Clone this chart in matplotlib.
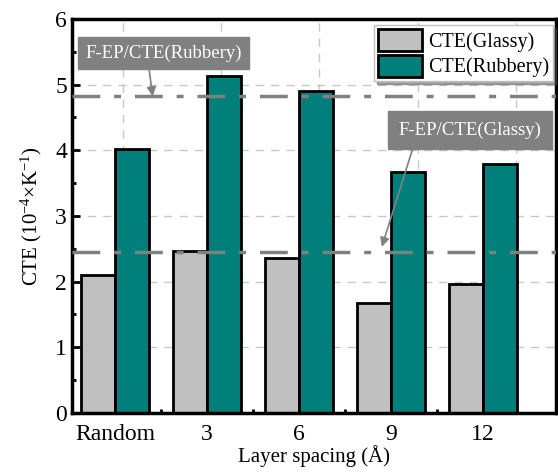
import numpy as np
import matplotlib
matplotlib.use("Agg")
import matplotlib.pyplot as plt

plt.rcParams['font.family'] = ['Liberation Serif', 'DejaVu Serif']
plt.rcParams['mathtext.fontset'] = 'custom'
plt.rcParams['mathtext.rm'] = 'Liberation Serif'
plt.rcParams['mathtext.default'] = 'regular'

# data
categories = ['Random', '3', '6', '9', '12']
cte_glassy = [2.10, 2.47, 2.36, 1.68, 1.96]
cte_rubbery = [4.02, 5.13, 4.90, 3.67, 3.79]
ref_rubbery = 4.82
ref_glassy = 2.45
grid_x = [0.087, 1.152, 2.217, 3.293, 4.36]

x = np.arange(len(categories))
w = 0.37
teal = '#007f7b'
grey = '#c0c0c0'

fig = plt.figure(figsize=(5.58, 4.72), dpi=100)
ax = fig.add_axes([0.129, 0.125, 0.867, 0.835])

# grid
for gx in grid_x:
    ax.axvline(gx, color='#c8c8c8', linestyle=(0, (6, 5)), linewidth=1, zorder=0)
for gy in [1, 2, 3, 4, 5]:
    ax.axhline(gy, color='#c8c8c8', linestyle=(0, (6, 5)), linewidth=1, zorder=0)

ax.bar(x - w/2, cte_glassy, w, color=grey, edgecolor='black', linewidth=2, label='CTE(Glassy)', zorder=2)
ax.bar(x + w/2, cte_rubbery, w, color=teal, edgecolor='black', linewidth=2, label='CTE(Rubbery)', zorder=2)

ax.axhline(ref_rubbery, color='#808080', linestyle=(0, (8, 4, 2, 4)), linewidth=2.5, zorder=3)
ax.axhline(ref_glassy, color='#808080', linestyle=(0, (8, 4, 2, 4)), linewidth=2.5, zorder=3)

ax.annotate('F-EP/CTE(Rubbery)', xy=(0.41, ref_rubbery), xytext=(0.53, 5.48),
            ha='center', va='center', fontsize=13.5, color='white',
            bbox=dict(boxstyle='square,pad=0.4', facecolor='#808080', edgecolor='#808080'),
            arrowprops=dict(arrowstyle='-|>', color='#808080', lw=1.2, shrinkA=0, shrinkB=0,
                            relpos=(0.40, 0)), zorder=5)
ax.annotate('F-EP/CTE(Glassy)', xy=(2.90, 2.53), xytext=(3.86, 4.31),
            ha='center', va='center', fontsize=13.5, color='white',
            bbox=dict(boxstyle='square,pad=0.55', facecolor='#808080', edgecolor='#808080'),
            arrowprops=dict(arrowstyle='-|>', color='#808080', lw=1.2, shrinkA=0, shrinkB=0,
                            relpos=(0.12, 0)), zorder=5)

ax.set_xlim(-0.467, 4.79)
ax.set_ylim(0, 6)
ax.set_xticks(x)
ax.set_xticklabels(categories)
ax.set_xticks(x[:-1] + 0.5, minor=True)
ax.set_yticks([0, 1, 2, 3, 4, 5, 6])
ax.set_yticks(np.arange(0.5, 6, 1), minor=True)
ax.tick_params(which='major', direction='in', length=6, width=2, labelsize=17)
ax.tick_params(which='minor', direction='in', length=3, width=2)
ax.tick_params(axis='x', which='major', length=0, pad=8)

for s in ax.spines.values():
    s.set_linewidth(2.5)

ax.set_xlabel('Layer spacing (Å)', fontsize=15, labelpad=0)
ax.set_ylabel('CTE (10$^{-4}$×K$^{-1}$)', fontsize=15, labelpad=8)

leg = ax.legend(loc='upper right', bbox_to_anchor=(0.995, 0.985), fontsize=14.5, frameon=True,
                fancybox=False, shadow=True, edgecolor='#c0c0c0', framealpha=1,
                handlelength=2.2, handleheight=1.3, handletextpad=0.3, borderpad=0.2,
                labelspacing=0.15, borderaxespad=0)
leg.get_frame().set_linewidth(1)
leg.set_zorder(6)

fig.savefig('out.png', dpi=100)
